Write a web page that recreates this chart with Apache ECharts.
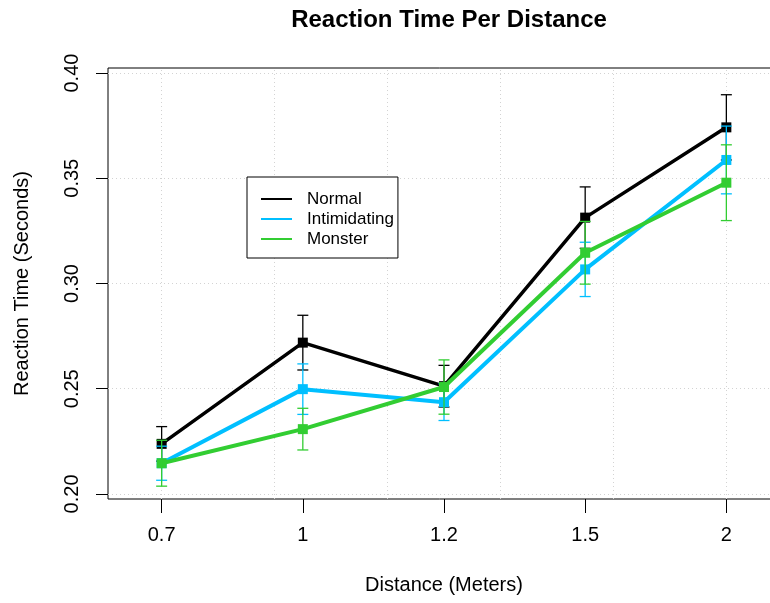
<!DOCTYPE html>
<html>
<head>
<meta charset="utf-8">
<script src="https://cdn.jsdelivr.net/npm/echarts@6/dist/echarts.min.js"></script>
<style>
html,body{margin:0;padding:0;background:#fff;}
#chart{width:770px;height:603px;}
</style>
</head>
<body>
<div id="chart"></div>
<script>
// Data
const categories = ['0.7', '1', '1.2', '1.5', '2'];
const xPos = [1, 2, 3, 4, 5];
const normalMean = [0.2238, 0.2719, 0.2512, 0.3313, 0.3742];
const normalErr = [0.0082, 0.0130, 0.0099, 0.0146, 0.0155];
const intimMean = [0.2146, 0.2498, 0.2436, 0.3067, 0.3587];
const intimErr = [0.0081, 0.0120, 0.0087, 0.0129, 0.0161];
const monsterMean = [0.2146, 0.2308, 0.2508, 0.3146, 0.3479];
const monsterErr = [0.0109, 0.0099, 0.0129, 0.0149, 0.0180];
const yTicks = [0.20, 0.25, 0.30, 0.35, 0.40];
const xGrid = [1, 1.8, 2.6, 3.4, 4.2, 5];

const FONT = '"Liberation Sans", Arial, Helvetica, sans-serif';
const colors = {Normal: '#000000', Intimidating: '#00BFFF', Monster: '#32CD32'};

function lineData(mean) { return xPos.map((x, i) => [x, mean[i]]); }
function errData(mean, err) { return xPos.map((x, i) => [x, mean[i], err[i]]); }

function errSeries(name, mean, err, z) {
  const c = colors[name];
  return {
    type: 'custom',
    name: name + ' err',
    z: z,
    silent: true,
    data: errData(mean, err),
    encode: {x: 0, y: [1]},
    renderItem: function (params, api) {
      const x = api.value(0), m = api.value(1), e = api.value(2);
      const top = api.coord([x, m + e]);
      const bot = api.coord([x, m - e]);
      const hw = 5.5;
      const style = {stroke: c, lineWidth: 1.3, fill: null};
      return {
        type: 'group',
        children: [
          {type: 'line', shape: {x1: top[0], y1: top[1], x2: bot[0], y2: bot[1]}, style: style},
          {type: 'line', shape: {x1: top[0] - hw, y1: top[1], x2: top[0] + hw, y2: top[1]}, style: style},
          {type: 'line', shape: {x1: bot[0] - hw, y1: bot[1], x2: bot[0] + hw, y2: bot[1]}, style: style}
        ]
      };
    }
  };
}

function lineSeries(name, mean, z, w) {
  return {
    type: 'line',
    name: name,
    z: z,
    data: lineData(mean),
    symbol: 'rect',
    symbolSize: 10,
    showSymbol: true,
    color: colors[name],
    lineStyle: {color: colors[name], width: w},
    itemStyle: {color: colors[name]},
    emphasis: {disabled: true}
  };
}

const gridLineStyle = {color: '#D3D3D3', type: [1, 3], width: 1};

const chart = echarts.init(document.getElementById('chart'), null, {renderer: 'canvas'});
chart.setOption({
  animation: false,
  backgroundColor: '#fff',
  title: {
    text: 'Reaction Time Per Distance',
    left: 444, top: 3, textAlign: 'center',
    textStyle: {fontFamily: FONT, fontSize: 24, fontWeight: 'bold', color: '#000'}
  },
  legend: {
    data: ['Normal', 'Intimidating', 'Monster'],
    orient: 'vertical',
    left: 247, top: 177,
    icon: 'rect',
    itemWidth: 31, itemHeight: 2,
    itemGap: 0,
    padding: [12, 4, 9, 14],
    backgroundColor: '#fff',
    borderColor: '#000', borderWidth: 1,
    selectedMode: false,
    z: 20,
    textStyle: {fontFamily: FONT, fontSize: 17, color: '#000', lineHeight: 20, padding: [0, 0, 0, 10]}
  },
  grid: {
    left: 108, top: 68, width: 672, height: 431,
    show: true, borderColor: '#000', borderWidth: 1, backgroundColor: 'transparent',
    containLabel: false,
    outerBoundsMode: 'none'
  },
  xAxis: {
    type: 'value',
    min: 0.62, max: 5.38,
    axisLine: {show: false},
    splitLine: {show: false},
    axisTick: {show: true, inside: false, length: 14, lineStyle: {color: '#000', width: 1}, customValues: xPos},
    axisLabel: {
      customValues: xPos, margin: 26,
      fontFamily: FONT, fontSize: 20, color: '#000',
      formatter: function (v) { const i = xPos.indexOf(v); return i >= 0 ? categories[i] : ''; }
    },
    name: 'Distance (Meters)', nameLocation: 'middle', nameGap: 76,
    nameTextStyle: {fontFamily: FONT, fontSize: 20, color: '#000'}
  },
  yAxis: {
    type: 'value',
    min: 0.1976, max: 0.4024,
    axisLine: {show: false},
    splitLine: {show: false},
    axisTick: {show: true, inside: false, length: 12, lineStyle: {color: '#000', width: 1}, customValues: yTicks},
    axisLabel: {
      customValues: yTicks, rotate: 90, margin: 26,
      fontFamily: FONT, fontSize: 20, color: '#000',
      formatter: function (v) { return v.toFixed(2); }
    },
    name: 'Reaction Time (Seconds)', nameLocation: 'middle', nameGap: 76, nameRotate: 90,
    nameTextStyle: {fontFamily: FONT, fontSize: 20, color: '#000'}
  },
  series: [
    {
      type: 'line', name: 'grid', data: [], z: 0, silent: true,
      markLine: {
        silent: true, symbol: 'none', label: {show: false}, z: 0,
        lineStyle: gridLineStyle, animation: false,
        data: xGrid.map(v => ({xAxis: v})).concat(yTicks.map(v => ({yAxis: v})))
      }
    },
    lineSeries('Normal', normalMean, 2, 3.5),
    errSeries('Normal', normalMean, normalErr, 3),
    lineSeries('Intimidating', intimMean, 4, 4),
    errSeries('Intimidating', intimMean, intimErr, 5),
    lineSeries('Monster', monsterMean, 6, 4),
    errSeries('Monster', monsterMean, monsterErr, 7)
  ]
});
</script>
</body>
</html>
